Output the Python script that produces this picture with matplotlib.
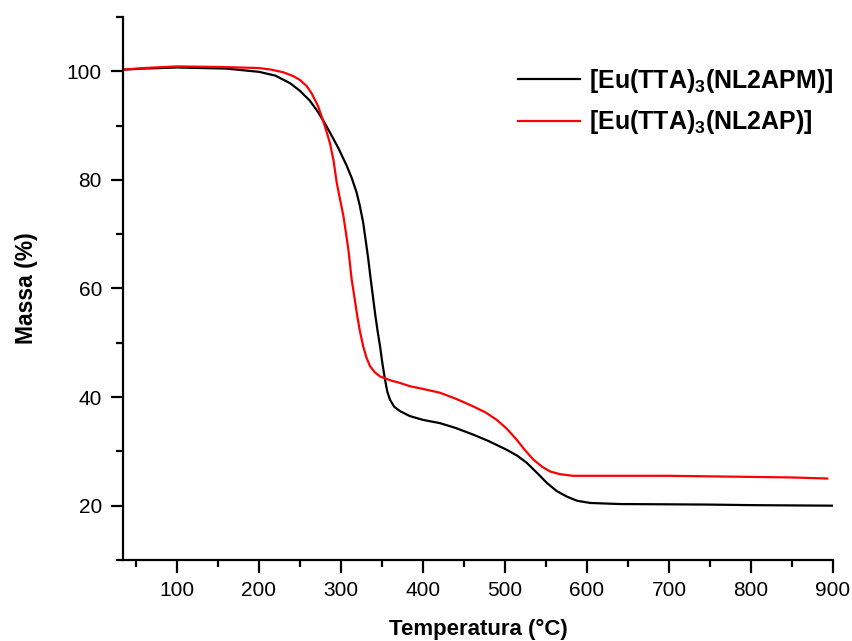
import numpy as np
import matplotlib.pyplot as plt

plt.rcParams['font.family'] = ['Liberation Sans', 'DejaVu Sans']
plt.rcParams['mathtext.fontset'] = 'custom'
plt.rcParams['mathtext.bf'] = 'Liberation Sans:bold'
plt.rcParams['mathtext.rm'] = 'Liberation Sans:bold'

# Curvas TGA
temp_apm = [34, 60, 100, 130, 160, 200, 220, 238, 250, 262, 272, 280, 287, 297, 307,
            313, 319, 323, 327, 330, 333.3, 336, 339.4, 341.5, 344.5, 347.6, 350.5,
            353.7, 356.5, 359.8, 365, 372, 384, 400, 420.7, 440, 461, 480, 502, 515,
            526.5, 540, 551, 563, 575, 588, 604, 640, 700, 750, 800, 850, 900]
massa_apm = [100.3, 100.5, 100.7, 100.6, 100.5, 99.9, 99.2, 97.8, 96.4, 94.6, 92.5, 90.5,
             88.6, 85.8, 82.6, 80.4, 77.7, 75.2, 72.2, 69.0, 65.4, 62.0, 58.0, 55.5, 52.3,
             49.4, 46.2, 43.2, 41.0, 39.5, 38.2, 37.4, 36.5, 35.8, 35.2, 34.3, 33.1, 31.9,
             30.3, 29.2, 27.9, 25.9, 24.2, 22.7, 21.7, 20.9, 20.5, 20.3, 20.25, 20.2,
             20.1, 20.05, 20.0]

temp_ap = [34, 60, 100, 150, 200, 215, 230, 242, 250, 258, 264, 272, 278.4, 283, 286.6,
           291, 294.8, 299, 302.9, 306, 309, 313, 317, 320, 323, 327, 331, 335.4, 341,
           347.6, 360, 372, 384, 400, 420.7, 440, 461, 476, 490, 502, 514, 524, 534.5,
           545, 555, 567, 583, 640, 700, 750, 800, 850, 893]
massa_ap = [100.3, 100.6, 100.9, 100.8, 100.6, 100.3, 99.8, 99.1, 98.4, 97.3, 96.0, 93.6,
            90.8, 88.6, 86.7, 83.5, 79.5, 76.3, 73.4, 70.3, 67.2, 61.7, 57.8, 54.8, 52.2,
            49.4, 47.3, 45.7, 44.6, 43.8, 43.1, 42.6, 42.0, 41.5, 40.8, 39.7, 38.3, 37.2,
            35.8, 34.2, 32.2, 30.3, 28.5, 27.2, 26.3, 25.8, 25.5, 25.5, 25.5, 25.4, 25.3,
            25.2, 25.0]

fig = plt.figure(figsize=(8.53, 6.41), dpi=100)
ax = fig.add_axes([0.144, 0.1264, 0.8326, 0.8471])

ax.plot(temp_apm, massa_apm, color='black', lw=1.6, label=r'[Eu(TTA)$_{\mathbf{3}}$(NL2APM)]')
ax.plot(temp_ap, massa_ap, color='red', lw=1.6, label=r'[Eu(TTA)$_{\mathbf{3}}$(NL2AP)]')

ax.set_xlim(34, 900)
ax.set_ylim(10, 110)
ax.set_xticks(np.arange(100, 901, 100))
ax.set_xticks(np.arange(50, 901, 50), minor=True)
ax.set_yticks(np.arange(20, 101, 20))
ax.set_yticks(np.arange(10, 111, 10), minor=True)

for s in ['top', 'right']:
    ax.spines[s].set_visible(False)
for s in ['left', 'bottom']:
    ax.spines[s].set_linewidth(1.6)
ax.tick_params(which='major', direction='out', length=9, width=1.6, labelsize=15, pad=6)
ax.tick_params(which='minor', direction='out', length=5, width=1.6)

ax.set_xlabel('Temperatura (°C)', fontsize=16, fontweight='bold', labelpad=14)
ax.set_ylabel('Massa (%)', fontsize=16.5, fontweight='bold', labelpad=21)

leg = ax.legend(loc='upper right', bbox_to_anchor=(1.032, 0.95), frameon=False,
                prop={'size': 18, 'weight': 'bold'}, handlelength=2.5,
                handletextpad=0.35, labelspacing=0.55)

fig.savefig('out.png', dpi=100)
